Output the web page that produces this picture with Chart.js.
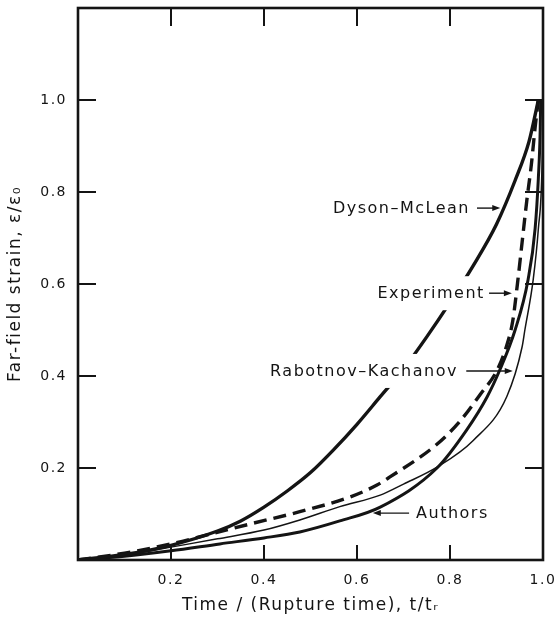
<!DOCTYPE html>
<html>
<head>
<meta charset="utf-8">
<title>Far-field strain vs time</title>
<script src="https://cdn.jsdelivr.net/npm/chart.js@4.4.1/dist/chart.umd.min.js"></script>
<style>
  html, body { margin: 0; padding: 0; background: #fff; }
  #wrap { width: 554px; height: 623px; }
</style>
</head>
<body>
<div id="wrap"><canvas id="chart"></canvas></div>
<script>
// --- Data (t/tr, strain/strain0) ---
const xTicks = [0.2, 0.4, 0.6, 0.8, 1.0];
const yTicks = [0.2, 0.4, 0.6, 0.8, 1.0];

const dysonX = [0, 0.1, 0.2, 0.3, 0.35, 0.4, 0.45, 0.5, 0.55, 0.6, 0.65, 0.7, 0.75, 0.8, 0.85, 0.9, 0.94, 0.97, 0.99];
const dysonY = [0, 0.012, 0.032, 0.063, 0.085, 0.115, 0.15, 0.19, 0.24, 0.295, 0.355, 0.415, 0.485, 0.56, 0.64, 0.73, 0.825, 0.91, 1.0];

const experimentX = [0, 0.1, 0.2, 0.28, 0.377, 0.477, 0.585, 0.643, 0.67, 0.77, 0.82, 0.865, 0.9, 0.92, 0.935, 0.945, 0.955, 0.965, 0.975, 0.983, 0.99];
const experimentY = [0, 0.015, 0.035, 0.055, 0.08, 0.105, 0.137, 0.163, 0.18, 0.25, 0.3, 0.36, 0.41, 0.46, 0.52, 0.6, 0.69, 0.78, 0.86, 0.94, 1.0];

const rabotnovX = [0, 0.1, 0.2, 0.3, 0.4, 0.477, 0.563, 0.65, 0.7, 0.772, 0.85, 0.922, 0.955, 0.961, 0.979, 0.99, 0.998, 1.0];
const rabotnovY = [0, 0.01, 0.028, 0.046, 0.065, 0.087, 0.116, 0.141, 0.165, 0.202, 0.26, 0.355, 0.463, 0.5, 0.61, 0.72, 0.86, 1.0];

const authorsX = [0, 0.1, 0.2, 0.305, 0.4, 0.477, 0.563, 0.65, 0.772, 0.836, 0.88, 0.907, 0.94, 0.968, 0.983, 0.99, 0.994, 0.995];
const authorsY = [0, 0.008, 0.02, 0.035, 0.048, 0.061, 0.085, 0.115, 0.2, 0.283, 0.355, 0.413, 0.5, 0.61, 0.72, 0.83, 0.935, 1.0];

// --- Style ---
const INK = '#141414';
const FONT = 'DejaVu Sans, sans-serif';

// Labels with arrows, positioned in data units (x, y) through the scales
const annotations = [
  { text: 'Dyson–McLean', x: 0.843, y: 0.765, align: 'right', from: 0.858, to: 0.908 },
  { text: 'Experiment', x: 0.875, y: 0.58, align: 'right', from: 0.884, to: 0.933, knockout: true },
  { text: 'Rabotnov–Kachanov', x: 0.817, y: 0.411, align: 'right', from: 0.835, to: 0.935, knockout: true },
  { text: 'Authors', x: 0.727, y: 0.102, align: 'left', from: 0.712, to: 0.634 }
];

function toPoints(xs, ys) {
  return xs.map((x, i) => ({ x: x, y: ys[i] }));
}

function drawArrow(ctx, x1, x2, y) {
  const dir = x2 > x1 ? 1 : -1;
  ctx.beginPath();
  ctx.moveTo(x1, y);
  ctx.lineTo(x2 - dir * 5, y);
  ctx.stroke();
  ctx.beginPath();
  ctx.moveTo(x2, y);
  ctx.lineTo(x2 - dir * 8, y - 3);
  ctx.lineTo(x2 - dir * 8, y + 3);
  ctx.closePath();
  ctx.fill();
}

// --- Plugins ---
const spacing = {
  id: 'spacing',
  beforeDraw(chart) { chart.ctx.letterSpacing = '1.5px'; },
  afterDraw(chart) { chart.ctx.letterSpacing = '0px'; }
};

const labels = {
  id: 'labels',
  afterDatasetsDraw(chart) {
    const { ctx, scales } = chart;
    ctx.save();
    ctx.font = '16px ' + FONT;
    ctx.textBaseline = 'middle';
    ctx.fillStyle = INK;
    ctx.strokeStyle = INK;
    ctx.lineWidth = 1.4;
    annotations.forEach(a => {
      const px = scales.x.getPixelForValue(a.x);
      const py = scales.y.getPixelForValue(a.y);
      const w = ctx.measureText(a.text).width;
      const left = a.align === 'right' ? px - w : px;
      if (a.knockout) {
        ctx.fillStyle = '#fff';
        ctx.fillRect(left - 4, py - 17, w + 8, 34);
        ctx.fillStyle = INK;
      }
      ctx.textAlign = 'left';
      ctx.fillText(a.text, left, py + 1);
      drawArrow(ctx, scales.x.getPixelForValue(a.from), scales.x.getPixelForValue(a.to), py);
    });
    ctx.restore();
  }
};

const frameAndTicks = {
  id: 'frameAndTicks',
  afterDraw(chart) {
    const { ctx, chartArea: area, scales } = chart;
    const len = 18;
    ctx.save();
    ctx.strokeStyle = INK;
    ctx.lineWidth = 2;
    xTicks.forEach(v => {
      if (v >= 1) return;
      const px = scales.x.getPixelForValue(v);
      ctx.beginPath();
      ctx.moveTo(px, area.bottom);
      ctx.lineTo(px, area.bottom - len + 3);
      ctx.moveTo(px, area.top);
      ctx.lineTo(px, area.top + len);
      ctx.stroke();
    });
    yTicks.forEach(v => {
      const py = scales.y.getPixelForValue(v);
      ctx.beginPath();
      ctx.moveTo(area.left, py);
      ctx.lineTo(area.left + len, py);
      ctx.moveTo(area.right, py);
      ctx.lineTo(area.right - len, py);
      ctx.stroke();
    });
    ctx.lineWidth = 2.6;
    ctx.strokeRect(area.left, area.top, area.right - area.left, area.bottom - area.top);
    ctx.restore();
  }
};

// --- Chart ---
const lineBase = {
  showLine: true,
  pointRadius: 0,
  borderColor: INK,
  cubicInterpolationMode: 'monotone',
  fill: false
};

new Chart(document.getElementById('chart'), {
  type: 'scatter',
  data: {
    datasets: [
      { ...lineBase, label: 'Dyson–McLean', data: toPoints(dysonX, dysonY), borderWidth: 3.4 },
      { ...lineBase, label: 'Experiment', data: toPoints(experimentX, experimentY), borderWidth: 3.4, borderDash: [13, 7] },
      { ...lineBase, label: 'Rabotnov–Kachanov', data: toPoints(rabotnovX, rabotnovY), borderWidth: 1.5 },
      { ...lineBase, label: 'Authors', data: toPoints(authorsX, authorsY), borderWidth: 3 }
    ]
  },
  options: {
    responsive: true,
    maintainAspectRatio: false,
    animation: false,
    layout: { padding: { top: 8, right: 11, left: 0, bottom: 0 } },
    plugins: { legend: { display: false }, tooltip: { enabled: false } },
    scales: {
      x: {
        type: 'linear',
        min: 0,
        max: 1,
        grid: { display: false, drawTicks: false },
        border: { display: false },
        ticks: {
          stepSize: 0.2,
          padding: 12,
          color: INK,
          font: { family: FONT, size: 14 },
          maxRotation: 0,
          callback: v => (v < 0.05 ? '' : v.toFixed(1))
        },
        title: {
          display: true,
          text: 'Time / (Rupture time), t/tᵣ',
          color: INK,
          font: { family: FONT, size: 17 },
          padding: { top: 0, bottom: 7 }
        },
        afterFit: s => { s.height = 63; s.paddingLeft = 0; s.paddingRight = 0; }
      },
      y: {
        type: 'linear',
        min: 0,
        max: 1.2,
        grid: { display: false, drawTicks: false },
        border: { display: false },
        ticks: {
          stepSize: 0.2,
          padding: 11,
          color: INK,
          font: { family: FONT, size: 14 },
          callback: v => (v < 0.05 || v > 1.05 ? '' : v.toFixed(1))
        },
        title: {
          display: true,
          text: 'Far-field strain, ε/ε₀',
          color: INK,
          font: { family: FONT, size: 17 },
          padding: { top: 5, bottom: 0 }
        },
        afterFit: s => { s.width = 78; s.paddingTop = 0; s.paddingBottom = 0; }
      }
    }
  },
  plugins: [spacing, labels, frameAndTicks]
});
</script>
</body>
</html>
